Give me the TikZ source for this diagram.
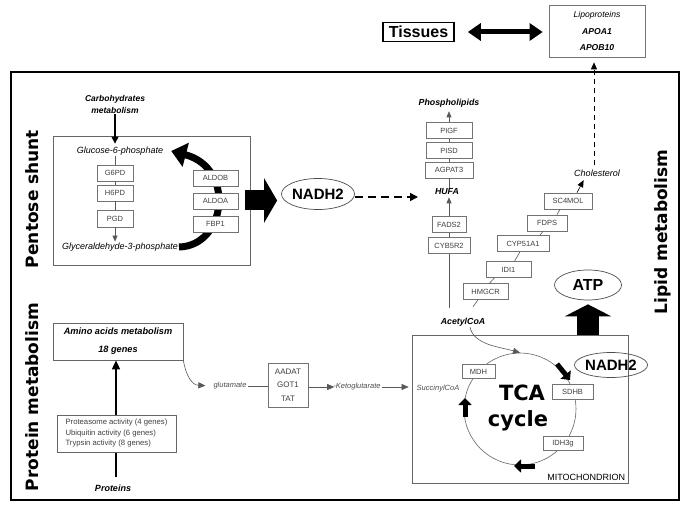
\documentclass[tikz,border=0pt]{standalone}
\usepackage{fontspec}
\setmainfont{Liberation Sans}
\newfontfamily\djv{DejaVu Sans}
\usetikzlibrary{arrows.meta,shapes.geometric,calc}
\tikzset{
 gene/.style={draw=black!55, fill=white, line width=0.6pt, inner sep=0pt, minimum height=16pt, text=black!75, font=\fontsize{7.5}{9}\selectfont},
 met/.style={font=\fontsize{9}{11}\selectfont\itshape, inner sep=1pt},
 bmet/.style={font=\fontsize{8.8}{11}\selectfont\bfseries\itshape, inner sep=1pt},
 small/.style={font=\fontsize{7.5}{9}\selectfont\itshape, text=black!70, inner sep=1pt},
 thin/.style={draw=black!65, line width=0.6pt},
 tip/.style={-{Triangle[length=6pt,width=5pt]}},
 region/.style={rotate=90, font=\djv\bfseries\fontsize{17}{20}\selectfont},
 big/.style={ellipse, draw=black!70, line width=0.7pt, inner sep=0pt, font=\bfseries\fontsize{15}{18}\selectfont},
 panel/.style={draw=black!60, line width=0.7pt, inner sep=0pt},
 cyca/.style={draw=black, line width=5pt, -{Triangle[length=7pt,width=13pt]}},
}
\begin{document}
\begin{tikzpicture}[x=1pt,y=-1pt]
\useasboundingbox (0,0) rectangle (685,510);

% ---------- top ----------
\node[draw, line width=1.6pt, minimum width=71pt, minimum height=19pt, inner sep=0pt,
      font=\bfseries\fontsize{16}{18}\selectfont] (tis) at (418.5,32) {Tissues};
\node[panel, draw=black!55, minimum width=96pt, minimum height=52pt, align=center,
      font=\fontsize{8.6}{16.5}\selectfont\itshape] (lipo) at (597,31)
      {Lipoproteins\\\textbf{APOA1}\\\textbf{APOB10}};
\draw[line width=5pt, {Triangle[length=13pt,width=17pt]}-{Triangle[length=13pt,width=17pt]},
      shorten <=13pt, shorten >=6pt] (tis.east) -- (tis.east -| lipo.west);

% ---------- frame ----------
\draw[line width=2.8pt] (11,72) rectangle (679,500);
\node[region] (lpent) at (32,199) {Pentose shunt};
\node[region] (lprot) at (32,397) {Protein metabolism};
\node[region] (llip) at (663,232) {Lipid metabolism};

% ---------- pentose shunt ----------
\node[panel, minimum width=197pt, minimum height=129pt] (pent) at (151.5,200.5) {};
\node[align=center, inner sep=1pt, font=\fontsize{8.5}{12}\selectfont\bfseries\itshape] (carb) at (115,104) {Carbohydrates\\metabolism};
\node[met] (glc) at (120,151) {Glucose-6-phosphate};
\node[met] (gly) at (120,247) {Glyceraldehyde-3-phosphate};
\draw[line width=1.2pt, -{Triangle[length=7pt,width=7pt]}, shorten >=2pt] (carb.south) -- (carb.south |- glc.north);
\draw[line width=7pt, -{Triangle[length=15pt,width=24pt]}] (gly.east) .. controls (226,246) and (236,168) .. ([xshift=7pt]glc.east);
\node[gene, minimum width=36pt] (g6pd) at (115,173) {G6PD};
\node[gene, minimum width=36pt] (h6pd) at (115,193) {H6PD};
\node[gene, minimum width=36pt, minimum height=17pt] (pgd) at (115,218.5) {PGD};
\draw[thin] (g6pd.north |- glc.south) -- (g6pd.north);
\draw[thin] (g6pd) -- (h6pd);
\draw[thin] (h6pd) -- (pgd);
\draw[thin, tip] (pgd.south) -- (pgd.south |- gly.north);
\node[gene, minimum width=45pt] (aldob) at (215.5,178) {ALDOB};
\node[gene, minimum width=45pt] (aldoa) at (215.5,201) {ALDOA};
\node[gene, minimum width=45pt] (fbp) at (215.5,224) {FBP1};

\node[big, minimum width=66pt, minimum height=31pt] (nadhA) at (318,194) {NADH2};
\draw[line width=20pt, -{Triangle[length=13pt,width=44pt]}, shorten >=4pt] ([xshift=-5pt]pent.east) -- (pent.east -| nadhA.west);
\coordinate (hin) at (418,197);
\draw[line width=1.6pt, dash pattern=on 8pt off 5pt, -{Triangle[length=8pt,width=8pt]}] (nadhA.east |- hin) -- (hin);

% ---------- lipid ----------
\node[bmet] (phos) at (449,103) {Phospholipids};
\node[gene, minimum width=46pt] (pigf) at (449,130.5) {PIGF};
\node[gene, minimum width=46pt] (pisd) at (449,150.5) {PISD};
\node[gene, minimum width=48pt] (agpat) at (449,170) {AGPAT3};
\node[bmet] (hufa) at (447,192) {HUFA};
\node[gene, minimum width=34pt] (fads) at (449,224.5) {FADS2};
\node[gene, minimum width=42pt] (cyb) at (449,245.5) {CYB5R2};
\node[bmet] (acetyl) at (463,322) {AcetylCoA};
\draw[thin, tip, shorten >=3pt] (pigf.north) -- (pigf.north |- phos.south);
\draw[thin] (pigf) -- (pisd);
\draw[thin] (pisd) -- (agpat);
\draw[thin] (agpat.south) -- (agpat.south |- hufa.north);
\draw[thin, tip, shorten >=1pt] (fads.north) -- (fads.north |- hufa.south);
\draw[thin] (cyb) -- (fads);
\draw[thin, shorten >=9pt] (cyb.south) -- (cyb.south |- acetyl.north);

\node[gene, minimum width=45pt] (hmgcr) at (485.5,291.5) {HMGCR};
\node[gene, minimum width=45pt] (idi) at (508.5,269.5) {IDI1};
\node[gene, minimum width=52pt] (cyp) at (523,243.5) {CYP51A1};
\node[gene, minimum width=40pt] (fdps) at (547,223) {FDPS};
\node[gene, minimum width=48pt] (sc4) at (568,201) {SC4MOL};
\node[met] (chol) at (597,173) {Cholesterol};
\draw[thin] ([xshift=-7.5pt]hmgcr.south) -- ++(-5,7);
\draw[thin] ([xshift=-14pt]idi.south) -- ([xshift=4pt]hmgcr.north);
\draw[thin] ([xshift=-3pt]cyp.south) -- ([xshift=6pt]idi.north);
\draw[thin] ([xshift=-4pt]fdps.south) -- ([xshift=17pt]cyp.north);
\draw[thin] ([xshift=-8pt]sc4.south) -- ([xshift=10pt]fdps.north);
\draw[thin, -{Triangle[length=7pt,width=6pt]}, draw=black, shorten >=3pt] ([xshift=9pt]sc4.north) -- ([xshift=-12pt]chol.south);
\draw[line width=0.8pt, dash pattern=on 5pt off 4pt, -{Triangle[length=7pt,width=6pt]}, shorten <=3pt, shorten >=5pt]
      ([xshift=-3pt]chol.north) -- ([xshift=-3pt]chol.north |- lipo.south);

\node[big, minimum width=67pt, minimum height=30pt, font=\bfseries\fontsize{16}{18}\selectfont] (atp) at (588,285) {ATP};

% ---------- protein ----------
\node[panel, minimum width=130pt, minimum height=37pt, align=center,
      font=\fontsize{9.2}{18}\selectfont\bfseries\itshape] (amino) at (118,341.5) {Amino acids metabolism\\18 genes};
\node[bmet, font=\fontsize{9}{11}\selectfont\bfseries\itshape] (proteins) at (113,488) {Proteins};
\draw[line width=1.6pt, -{Triangle[length=9pt,width=8pt]}, shorten <=6pt]
      ([xshift=-2pt]amino.south |- proteins.north) -- ([xshift=-2pt]amino.south);
\node[panel, fill=white, align=left, font=\fontsize{7.7}{10.5}\selectfont, text=black!75,
      minimum width=119pt, minimum height=37pt] (prot) at (116.5,433.5)
      {Proteasome activity (4 genes)\\Ubiquitin activity (6 genes)\\Trypsin activity (8 genes)};

\node[small] (glut) at (230,386) {glutamate};
\draw[thin, -{Triangle[length=7pt,width=6pt]}, shorten >=7pt] (amino.south east) .. controls (186,376) and (192,385) .. (glut.west);
\node[gene, minimum width=40pt, minimum height=44pt, align=center, font=\fontsize{8}{13.5}\selectfont] (aadat) at (288,385) {AADAT\\GOT1\\TAT};
\node[small] (keto) at (357,387) {-Ketoglutarate};
\draw[thin] (glut) -- (glut -| aadat.west);
\draw[thin, -{Triangle[length=7pt,width=6pt]}, shorten >=-2pt] (aadat.east |- keto) -- (keto.west);

% ---------- mitochondrion ----------
\node[panel, minimum width=216pt, minimum height=148pt] (mito) at (520,409) {};
\node[anchor=south east, font=\fontsize{9}{10}\selectfont, inner sep=3pt] (mitolbl) at (mito.south east) {MITOCHONDRION};
\draw[thin, -{Triangle[length=7pt,width=6pt]}, shorten >=3pt] (keto.east) -- (keto.east -| mito.west);
\node[small] (succ) at (438,389) {SuccinylCoA};
\node[circle, draw=black!60, line width=0.6pt, minimum size=112pt, inner sep=0pt] (cyc) at (520,409) {};
\draw[thin, -{Triangle[length=7pt,width=6pt]}] ([xshift=7pt]acetyl.south) .. controls (474,345) and (500,347) .. (cyc.north);
\node[font=\djv\bfseries\fontsize{21}{24}\selectfont, inner sep=0pt] (tca) at (522,393) {TCA};
\node[font=\djv\bfseries\fontsize{21}{24}\selectfont, inner sep=0pt] (cycle) at (518,421) {cycle};
\node[gene, minimum width=33pt, minimum height=14pt] (mdh) at (478.5,371.5) {MDH};
\node[gene, minimum width=41pt, minimum height=15pt] (sdhb) at (572.5,391.5) {SDHB};
\node[gene, minimum width=40pt, minimum height=14pt] (idh) at (563,443.5) {IDH3g};
\draw[cyca] ($(cyc.center)+(37,-45)$) -- ($(cyc.center)+(50,-29)$);
\draw[cyca] ($(cyc.center)+(15,57)$) -- ($(cyc.center)+(-6,57)$);
\draw[cyca] ($(cyc.center)+(-55,8)$) -- ($(cyc.center)+(-55,-11)$);
\node[big, minimum width=68pt, minimum height=25pt] (nadhB) at (611,365) {NADH2};
\draw[line width=22pt, -{Triangle[length=12pt,width=46pt]}, shorten >=4pt] (mito.north -| atp.south) -- (atp.south);
\end{tikzpicture}
\end{document}
